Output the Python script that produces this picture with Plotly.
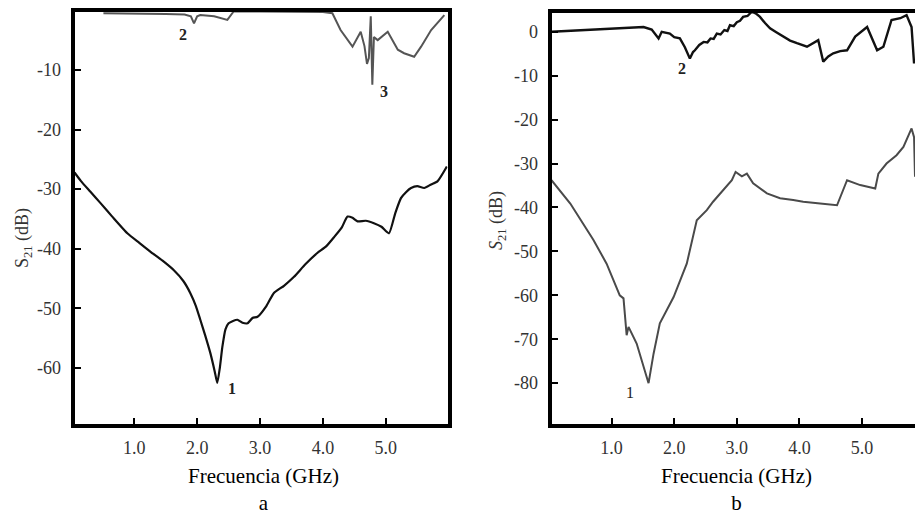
import plotly.graph_objects as go

# ---------------- data ----------------
# Panel a
a_c1_x = [0.05, 0.15, 0.30, 0.46, 0.65, 0.89, 1.08, 1.26, 1.45, 1.63, 1.78, 1.89, 1.98, 2.05,
          2.13, 2.21, 2.28, 2.32, 2.36, 2.40, 2.45, 2.50, 2.57, 2.64, 2.72, 2.80, 2.88, 2.96,
          3.10, 3.22, 3.38, 3.54, 3.72, 3.91, 4.05, 4.18, 4.30, 4.39, 4.47, 4.55, 4.68, 4.81,
          4.93, 5.05, 5.15, 5.24, 5.32, 5.40, 5.50, 5.61, 5.72, 5.82, 5.97]
a_c1_y = [-27.2, -28.6, -30.4, -32.3, -34.6, -37.4, -39.0, -40.5, -42.0, -43.6, -45.4, -47.4,
          -49.6, -51.9, -54.6, -57.5, -60.6, -62.5, -60.0, -56.5, -53.5, -52.5, -52.1, -51.9,
          -52.4, -52.5, -51.6, -51.4, -49.6, -47.4, -46.2, -44.7, -42.6, -40.7, -39.6, -38.0,
          -36.4, -34.6, -34.8, -35.4, -35.3, -35.7, -36.3, -37.4, -34.0, -31.5, -30.5, -29.8,
          -29.5, -29.8, -29.2, -28.7, -26.2]

a_c23_x = [0.51, 1.00, 1.50, 1.80, 1.90, 1.95, 2.00, 2.05, 2.27, 2.48, 2.58, 3.00, 3.50, 4.00,
           4.15, 4.28, 4.47, 4.60, 4.66, 4.70, 4.73, 4.76, 4.785, 4.81, 4.87, 5.03, 5.19, 5.29,
           5.45, 5.56, 5.72, 5.93]
a_c23_y = [-0.5, -0.5, -0.6, -0.7, -1.0, -2.2, -1.0, -0.8, -1.0, -1.6, -0.2, -0.2, -0.3, -0.3,
           -0.5, -3.3, -6.1, -3.6, -6.0, -9.0, -8.0, -1.0, -12.5, -4.5, -5.0, -3.6, -6.6, -7.2,
           -7.8, -6.1, -3.3, -0.8]

# Panel b
b_c2_x = [0.04, 0.50, 1.00, 1.51, 1.64, 1.75, 1.80, 1.93, 2.00, 2.09, 2.17, 2.25, 2.30, 2.33,
          2.40, 2.47, 2.53, 2.58, 2.63, 2.68, 2.74, 2.80, 2.85, 2.89, 2.95, 3.00, 3.05, 3.10,
          3.17, 3.24, 3.30, 3.37, 3.45, 3.53, 3.63, 3.74, 3.85, 3.96, 4.12, 4.30, 4.38, 4.46,
          4.54, 4.65, 4.76, 4.89, 5.08, 5.24, 5.34, 5.47, 5.61, 5.71, 5.79, 5.83]
b_c2_y = [0.0, 0.3, 0.6, 1.1, 0.5, -1.5, 0.0, -0.4, -1.2, -1.5, -3.5, -6.1, -4.6, -4.2,
          -3.0, -2.3, -2.4, -1.5, -1.6, -0.4, -0.6, 0.4, 0.2, 1.5, 1.3, 2.2, 2.5, 3.4,
          3.6, 4.6, 4.2, 3.4, 2.0, 0.8, -0.1, -1.1, -2.0, -2.6, -3.4, -1.9, -6.8, -5.6,
          -4.9, -4.4, -4.2, -1.1, 1.1, -4.2, -3.4, 2.7, 3.1, 3.8, 1.1, -7.2]

b_c1_x = [0.04, 0.34, 0.71, 0.92, 1.13, 1.19, 1.22, 1.24, 1.27, 1.40, 1.56, 1.59, 1.67, 1.77,
          1.99, 2.20, 2.36, 2.52, 2.62, 2.78, 2.92, 2.98, 3.08, 3.16, 3.26, 3.48, 3.69, 3.90,
          4.06, 4.33, 4.60, 4.76, 4.97, 5.21, 5.26, 5.39, 5.55, 5.66, 5.79, 5.83, 5.845]
b_c1_y = [-33.8, -39.1, -47.4, -52.8, -60.0, -60.7, -65.7, -69.1, -67.2, -71.0, -78.6, -80.0,
          -73.3, -66.4, -60.4, -52.8, -42.9, -40.6, -38.7, -36.1, -33.8, -31.9, -32.9, -32.3,
          -34.5, -36.8, -37.9, -38.3, -38.7, -39.1, -39.5, -33.8, -34.9, -35.7, -32.3, -30.0,
          -28.1, -26.2, -22.0, -24.0, -33.0]

x_tick_vals = [1, 2, 3, 4, 5]
x_tick_text = ["1.0", "2.0", "3.0", "4.0", "5.0"]
a_y_ticks = [-60, -50, -40, -30, -20, -10]
a_y_text = ["-60", "-50", "-40", "-30", "-20", "-10"]
b_y_ticks = [-80, -70, -60, -50, -40, -30, -20, -10, 0]
b_y_text = ["-80", "-70", "-60", "-50", "-40", "-30", "-20", "-10", "0"]

# curve labels: (text, x, y)
a_labels = [("1", 2.56, -63.4), ("2", 1.78, -4.1), ("3", 4.97, -13.7)]
b_labels = [("2", 2.12, -8.3), ("1", 1.29, -82.1)]

FONT = "Times New Roman, Liberation Serif, serif"

fig = go.Figure()
fig.add_trace(go.Scatter(x=a_c23_x, y=a_c23_y, mode="lines", line=dict(color="#555555", width=2),
                         xaxis="x", yaxis="y"))
fig.add_trace(go.Scatter(x=a_c1_x, y=a_c1_y, mode="lines",
                         line=dict(color="#111111", width=2.2, shape="spline", smoothing=0.5),
                         xaxis="x", yaxis="y"))
fig.add_trace(go.Scatter(x=b_c1_x, y=b_c1_y, mode="lines", line=dict(color="#4a4a4a", width=2),
                         xaxis="x2", yaxis="y2"))
fig.add_trace(go.Scatter(x=b_c2_x, y=b_c2_y, mode="lines", line=dict(color="#111111", width=2.4),
                         xaxis="x2", yaxis="y2"))

W, H = 915, 517
ax_common = dict(showgrid=False, zeroline=False, showline=True, linecolor="black", linewidth=4,
                 ticks="inside", ticklen=6, tickwidth=2, tickcolor="black",
                 tickfont=dict(family=FONT, size=18, color="#333333"))

fig.update_layout(
    width=W, height=H, margin=dict(l=0, r=0, t=0, b=0),
    paper_bgcolor="white", plot_bgcolor="white", showlegend=False,
    font=dict(family=FONT),
    xaxis=dict(domain=[74.5 / W, 447.5 / W], range=[0.05, 5.98], tickvals=x_tick_vals,
               ticktext=x_tick_text, mirror=True, anchor="y", ticklabelstandoff=5, **ax_common),
    yaxis=dict(domain=[1 - 423.5 / H, 1 - 11.5 / H], range=[-69.3, -0.2], tickvals=a_y_ticks,
               ticktext=a_y_text, mirror=True, anchor="x", ticklabelstandoff=6, **ax_common),
    xaxis2=dict(domain=[551.5 / W, 1.0], range=[0.04, 5.845], tickvals=x_tick_vals,
                ticktext=x_tick_text, mirror=True, anchor="y2", ticklabelstandoff=5, **ax_common),
    yaxis2=dict(domain=[1 - 423.5 / H, 1 - 12.5 / H], range=[-89.2, 4.4], tickvals=b_y_ticks,
                ticktext=b_y_text, mirror=False, anchor="x2", ticklabelstandoff=6, **ax_common),
)

ann = []
for t, x, y in a_labels:
    ann.append(dict(text="<b>" + t + "</b>", x=x, y=y, xref="x", yref="y", showarrow=False,
                    xanchor="center", yanchor="middle",
                    font=dict(family=FONT, size=16, color="#222222")))
for t, x, y in b_labels:
    ann.append(dict(text="<b>" + t + "</b>" if t == "2" else t, x=x, y=y, xref="x2", yref="y2",
                    showarrow=False, xanchor="center", yanchor="middle",
                    font=dict(family=FONT, size=16, color="#222222")))


def paper_text(text, px, py, size, color="black", angle=0, yanchor="middle"):
    return dict(text=text, x=px / W, y=1 - py / H, xref="paper", yref="paper",
                xanchor="center", yanchor=yanchor, showarrow=False, textangle=angle,
                align="center", font=dict(family=FONT, size=size, color=color))


# axis titles with panel captions (one block each), y-axis titles
ann += [
    paper_text("Frecuencia (GHz)<br>a", 263, 517, 21, yanchor="bottom"),
    paper_text("Frecuencia (GHz)<br>b", 736, 517, 21, yanchor="bottom"),
    paper_text("S<sub>21</sub> (dB)", 23, 238, 18, "#333333", -90),
    paper_text("<i>S</i><sub>21</sub> (dB)", 497, 221, 18, "#333333", -90),
]
fig.update_layout(annotations=ann)

fig.write_html("out.html")
